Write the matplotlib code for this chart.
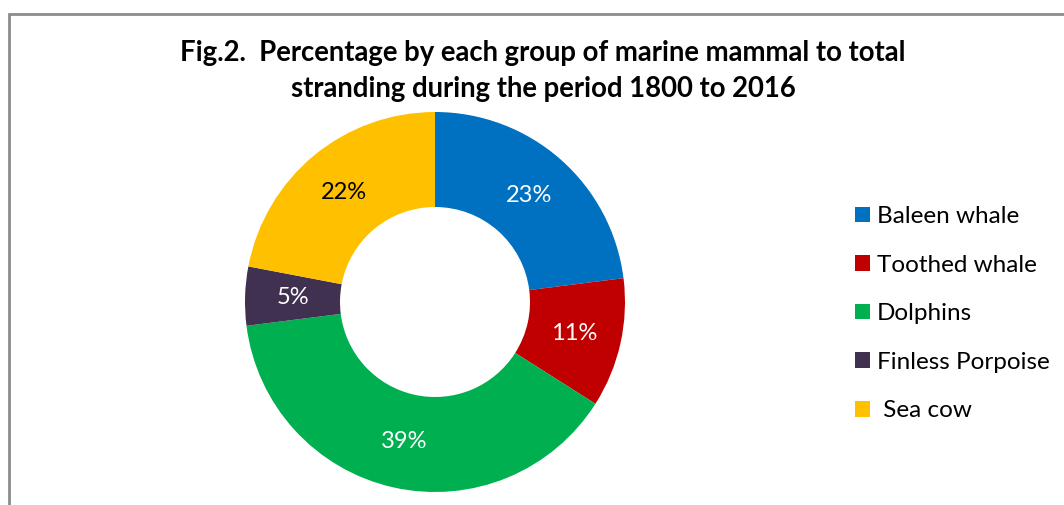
import matplotlib
matplotlib.use("Agg")
import matplotlib.pyplot as plt
from matplotlib.patches import Patch, Rectangle
import numpy as np

plt.rcParams['font.family'] = ['Lato', 'DejaVu Sans']

groups = ['Baleen whale', 'Toothed whale', 'Dolphins', 'Finless Porpoise', ' Sea cow']
shares = [23, 11, 39, 5, 22]
colors = ['#0070C0', '#C00000', '#00B050', '#403151', '#FFC000']
label_colors = ['white', 'white', 'white', 'white', 'black']

W, H = 1064, 505
fig = plt.figure(figsize=(W / 100, H / 100), dpi=100)

# grey chart border, runs off right and bottom edges
fig.patches.append(Rectangle((9 / W, -0.1), 1.2, (H - 14) / H + 0.1, transform=fig.transFigure,
                             fill=False, edgecolor='#8c8c8c', linewidth=2))

cx, cy, r = 435, 302, 190
ax = fig.add_axes([(cx - r) / W, (H - cy - r) / H, 2 * r / W, 2 * r / H])
wedges, _ = ax.pie(shares, colors=colors, startangle=90, counterclock=False,
                   radius=1, wedgeprops=dict(width=0.5, edgecolor='white', linewidth=0))
for w, s, lc in zip(wedges, shares, label_colors):
    mid = np.deg2rad((w.theta1 + w.theta2) / 2)
    ax.text(0.75 * np.cos(mid), 0.75 * np.sin(mid), f'{s}%', ha='center', va='center',
            color=lc, fontsize=17)
ax.set_xlim(-1, 1)
ax.set_ylim(-1, 1)
ax.set_aspect('equal')
ax.axis('off')

fig.text(543 / W, 1 - 53 / H, 'Fig.2.  Percentage by each group of marine mammal to total',
         ha='center', va='center', fontsize=19.8, fontweight='bold')
fig.text(543 / W, 1 - 89 / H, 'stranding during the period 1800 to 2016',
         ha='center', va='center', fontsize=19.8, fontweight='bold')

handles = [Patch(facecolor=c, edgecolor='none') for c in colors]
fig.legend(handles, groups, loc='upper left', bbox_to_anchor=(855 / W, 1 - 206 / H),
           frameon=False, fontsize=17.5, handlelength=0.62, handleheight=0.62,
           handletextpad=0.29, labelspacing=1.135, borderpad=0, borderaxespad=0)

fig.savefig('out.png', dpi=100)
